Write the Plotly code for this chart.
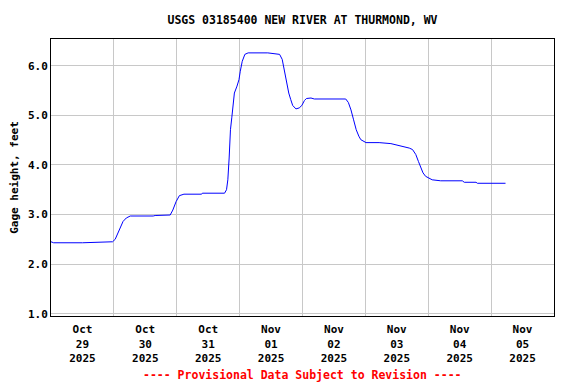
import plotly.graph_objects as go

# Gage height readings
times = [
    "2025-10-29 00:00", "2025-10-29 01:00", "2025-10-29 12:00", "2025-10-29 21:00", "2025-10-29 23:30",
    "2025-10-30 00:30", "2025-10-30 02:15", "2025-10-30 03:30", "2025-10-30 04:45", "2025-10-30 06:15",
    "2025-10-30 15:00", "2025-10-30 15:45", "2025-10-30 21:30", "2025-10-30 22:30", "2025-10-30 23:45",
    "2025-10-31 01:00", "2025-10-31 02:45", "2025-10-31 09:30", "2025-10-31 09:45", "2025-10-31 18:15",
    "2025-10-31 19:00", "2025-10-31 19:30", "2025-10-31 20:00", "2025-10-31 20:30", "2025-10-31 21:00",
    "2025-10-31 21:30", "2025-10-31 22:00", "2025-10-31 23:00", "2025-10-31 23:45",
    "2025-11-01 00:15", "2025-11-01 01:00", "2025-11-01 02:00", "2025-11-01 03:15", "2025-11-01 10:45",
    "2025-11-01 13:00", "2025-11-01 15:15", "2025-11-01 16:15", "2025-11-01 16:45", "2025-11-01 17:30",
    "2025-11-01 18:00", "2025-11-01 18:45", "2025-11-01 19:30", "2025-11-01 20:15", "2025-11-01 21:30",
    "2025-11-01 22:45", "2025-11-01 23:45",
    "2025-11-02 00:45", "2025-11-02 01:30", "2025-11-02 03:15", "2025-11-02 04:30", "2025-11-02 16:30",
    "2025-11-02 17:30", "2025-11-02 18:30", "2025-11-02 19:30", "2025-11-02 20:30", "2025-11-02 21:30",
    "2025-11-02 22:15",
    "2025-11-03 00:15", "2025-11-03 05:15", "2025-11-03 09:45", "2025-11-03 12:15", "2025-11-03 15:30",
    "2025-11-03 16:45", "2025-11-03 18:00", "2025-11-03 19:15", "2025-11-03 20:15", "2025-11-03 21:15",
    "2025-11-03 22:00", "2025-11-03 23:00",
    "2025-11-04 00:30", "2025-11-04 01:30", "2025-11-04 04:45", "2025-11-04 13:00", "2025-11-04 13:45",
    "2025-11-04 18:15", "2025-11-04 18:45",
    "2025-11-05 05:30",
]
gage_ft = [
    2.45, 2.43, 2.43, 2.44, 2.45,
    2.50, 2.73, 2.86, 2.93, 2.97,
    2.97, 2.98, 2.99, 3.09, 3.26,
    3.38, 3.41, 3.41, 3.43, 3.43,
    3.50, 3.70, 4.14, 4.71, 4.95,
    5.22, 5.45, 5.59, 5.72,
    5.89, 6.09, 6.23, 6.26, 6.26,
    6.25, 6.23, 6.13, 5.99, 5.79,
    5.65, 5.45, 5.32, 5.20, 5.13,
    5.15, 5.20,
    5.30, 5.34, 5.35, 5.33, 5.33,
    5.26, 5.11, 4.91, 4.71, 4.58,
    4.51,
    4.45, 4.45, 4.43, 4.40, 4.37,
    4.34, 4.31, 4.21, 4.07, 3.94,
    3.84, 3.77,
    3.72, 3.70, 3.68, 3.68, 3.65,
    3.65, 3.63,
    3.63,
]

# Day labels (placed at noon of each day)
tick_days = ["2025-10-29", "2025-10-30", "2025-10-31", "2025-11-01",
             "2025-11-02", "2025-11-03", "2025-11-04", "2025-11-05"]
tick_text = ["Oct<br>29<br>2025", "Oct<br>30<br>2025", "Oct<br>31<br>2025", "Nov<br>01<br>2025",
             "Nov<br>02<br>2025", "Nov<br>03<br>2025", "Nov<br>04<br>2025", "Nov<br>05<br>2025"]
y_ticks = [1.0, 2.0, 3.0, 4.0, 5.0, 6.0]

FONT = "DejaVu Sans Mono"
fig = go.Figure()
fig.add_trace(go.Scatter(x=times, y=gage_ft, mode="lines",
                         line=dict(color="#0000ff", width=1), hoverinfo="skip"))

# margins compensate for the 8px default page margin around the figure
fig.update_layout(
    width=576, height=384,
    margin=dict(l=43, r=30, t=31, b=76, autoexpand=False),
    paper_bgcolor="white", plot_bgcolor="white",
    showlegend=False,
    font=dict(family=FONT, size=11, color="black", weight="bold"),
    title=dict(text="USGS 03185400 NEW RIVER AT THURMOND, WV",
               font=dict(family=FONT, size=11.5, color="black", weight="bold"),
               x=0.5, xref="paper", xanchor="center", y=0.969, yref="container", yanchor="middle"),
    xaxis=dict(
        type="date", automargin=False,
        range=["2025-10-29 00:00", "2025-11-06 00:00"],
        tickmode="array",
        tickvals=[d + " 12:00" for d in tick_days],
        ticktext=tick_text,
        ticks="", showgrid=False, ticklabelstandoff=3,
        minor=dict(showgrid=True, gridcolor="#c8c8c8", gridwidth=1,
                   tick0="2025-10-29", dtick=86400000, ticks=""),
        showline=True, linecolor="black", linewidth=1, mirror=True,
        zeroline=False,
        tickfont=dict(family=FONT, size=11, color="black", weight="bold"),
    ),
    yaxis=dict(
        automargin=False,
        range=[0.953, 6.54],
        tickmode="array", tickvals=y_ticks,
        ticktext=[f"{v:.1f}" for v in y_ticks],
        ticks="", showgrid=True, gridcolor="#c8c8c8", gridwidth=1,
        showline=True, linecolor="black", linewidth=1, mirror=True,
        zeroline=False,
        title=dict(text="Gage height, feet", standoff=15,
                   font=dict(family=FONT, size=11, color="black", weight="bold")),
        tickfont=dict(family=FONT, size=11, color="black", weight="bold"),
    ),
    annotations=[dict(
        text="---- Provisional Data Subject to Revision ----",
        xref="paper", yref="paper", x=0.5, y=-0.213,
        xanchor="center", yanchor="middle", showarrow=False,
        font=dict(family=FONT, size=11.5, color="red", weight="bold"),
    )],
)

fig.write_html("out.html")
